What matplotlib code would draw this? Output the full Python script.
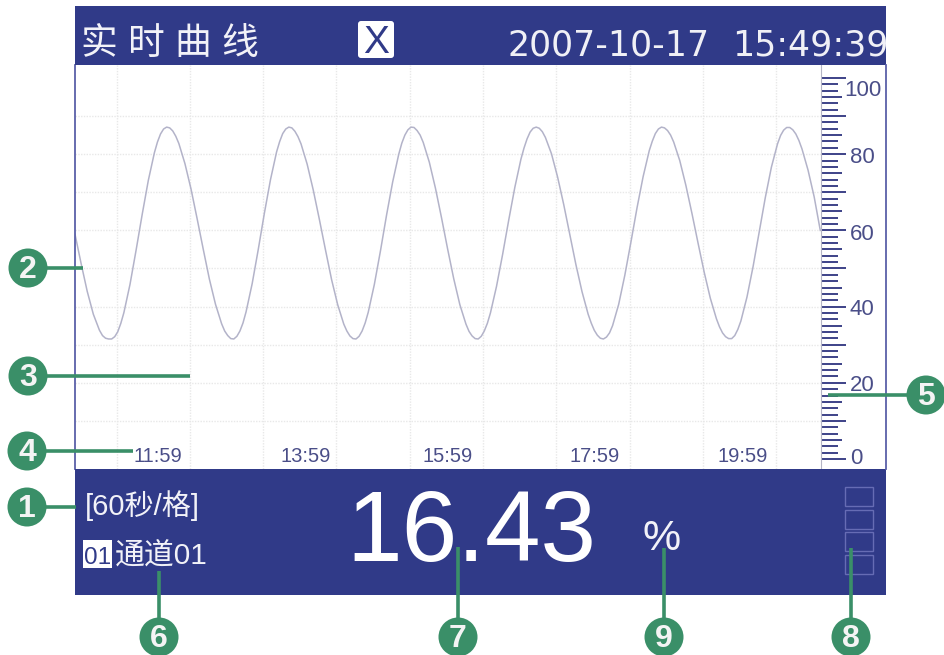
import numpy as np
import matplotlib
matplotlib.use("Agg")
import matplotlib.pyplot as plt
from matplotlib.patches import Circle, FancyBboxPatch, Rectangle

plt.rcParams['font.family'] = ['Liberation Sans', 'Noto Sans CJK SC', 'DejaVu Sans']

# curve, one value every 5 seconds
curve_times = list(range(0, 615, 5))
curve_values = [
    59.0, 51.3, 44.0, 38.0, 33.8, 31.7,
    31.5, 33.4, 38.4, 45.8, 54.8, 64.2, 73.1, 80.4, 85.3, 87.1,
    86.1, 82.8, 77.5, 70.8, 63.0, 55.0, 47.2, 40.6, 35.5, 32.4,
    31.5, 33.6, 38.6, 46.0, 55.0, 64.5, 73.3, 80.6, 85.4, 87.1,
    86.0, 82.7, 77.4, 70.6, 62.9, 54.9, 47.1, 40.5, 35.4, 32.3,
    31.5, 33.6, 38.5, 45.8, 54.6, 64.0, 72.7, 80.0, 85.0, 87.1,
    86.2, 83.1, 77.9, 71.1, 63.3, 55.1, 47.3, 40.5, 35.4, 32.3,
    31.5, 33.6, 38.3, 45.3, 53.7, 62.7, 71.3, 78.7, 84.0, 86.8,
    86.8, 84.4, 80.1, 74.0, 66.8, 58.9, 51.0, 43.9, 38.0, 33.8, 31.7,
    32.0, 35.0, 40.6, 48.2, 56.9, 65.9, 74.1, 80.9, 85.4, 87.1,
    86.2, 83.2, 78.3, 71.8, 64.4, 56.6, 49.0, 42.2, 36.8, 33.1, 31.6,
    32.4, 36.2, 42.5, 50.5, 59.6, 68.6, 76.6, 82.7, 86.3,
    87.0, 85.3, 81.4, 75.8, 68.8, 60.0,
]

# extra readings around the peaks and troughs, where the curve bends most
bend_times = [
    22.5, 27.5, 32.5, 37.5, 67.5, 72.5, 77.5, 82.5,
    122.5, 127.5, 132.5, 137.5, 167.5, 172.5, 177.5, 182.5,
    222.5, 227.5, 232.5, 237.5, 267.5, 272.5, 277.5, 282.5,
    322.5, 327.5, 332.5, 337.5, 367.5, 372.5, 377.5, 382.5,
    422.5, 427.5, 432.5, 437.5, 472.5, 477.5, 482.5, 487.5,
    527.5, 532.5, 537.5, 542.5, 577.5, 582.5, 587.5, 592.5,
]
bend_values = [
    32.4, 31.5, 32.1, 35.6, 83.2, 86.6, 86.9, 84.7,
    33.6, 31.6, 32.2, 35.7, 83.3, 86.6, 86.9, 84.6,
    33.6, 31.6, 32.2, 35.7, 82.9, 86.4, 87.0, 85.0,
    33.5, 31.6, 32.2, 35.6, 81.6, 85.8, 87.1, 85.9,
    35.7, 32.5, 31.5, 33.1, 83.4, 86.6, 86.9, 85.0,
    34.7, 32.1, 31.6, 34.0, 84.9, 87.0, 86.4, 83.6,
]

grid_times = [34, 94, 154, 214, 274, 334, 394, 454, 514, 574]
grid_values = [10, 20, 30, 40, 50, 60, 70, 80, 90]
time_labels = ['11:59', '13:59', '15:59', '17:59', '19:59']
time_label_pos = [67.5, 188.7, 305.3, 425.2, 546.8]
scale_labels = ['80', '60', '40', '20', '0']
scale_label_y = [157.7, 234.4, 309.4, 385.7, 458.7]

NAVY = '#303a88'
EDGE = '#5b60a8'
GREEN = '#3a8f68'
INK = '#4a4e88'

fig = plt.figure(figsize=(9.45, 6.55), dpi=100)
W, H = 945, 655

# plot area, 75..821 px across and 65..469 px down
ax = fig.add_axes([75 / W, (H - 469) / H, 746.5 / W, 404 / H])
ax.set_xlim(0, 611)
ax.set_ylim(-2.62, 103.4)
ax.set_xticks([])
ax.hlines(grid_values, 0, 611, colors='#e8e8e8', linewidth=1, linestyles=(0, (1, 1)))
ax.vlines(grid_times, -2.62, 103.4, colors='#e8e8e8', linewidth=1, linestyles=(0, (1, 1)))

all_times = np.array(curve_times + bend_times)
all_values = np.array(curve_values + bend_values)
order = np.argsort(all_times)
ax.plot(all_times[order], all_values[order], color='#b3b3c9', linewidth=1.1)

for name in ['top', 'bottom']:
    ax.spines[name].set_visible(False)
ax.spines['left'].set_color(EDGE)
ax.spines['left'].set_linewidth(1.3)
ax.spines['right'].set_color('#b5b5c5')
ax.spines['right'].set_linewidth(0.8)

# ruler: 60 ticks, long every 10, medium every 5
ruler = np.linspace(0, 100, 61)
ax.yaxis.tick_right()
ax.set_yticks(ruler)
ax.set_yticklabels([''] * 61)
ax.tick_params(axis='y', width=1.4, color='#3d4288', direction='out')
for i, tick in enumerate(ax.yaxis.get_major_ticks()):
    if i % 6 == 0:
        length = 25
    elif i % 3 == 0:
        length = 21.5
    else:
        length = 17
    tick.tick2line.set_markersize(length * 0.72)

for label, t in zip(time_labels, time_label_pos):
    ax.text(t, -0.66, label, ha='center', va='baseline', fontsize=14.5, color=INK)

# everything else is laid out in pixels on a full size overlay
ov = fig.add_axes([0, 0, 1, 1], facecolor='none')
ov.set_xlim(0, W)
ov.set_ylim(H, 0)
ov.axis('off')

ov.add_patch(Rectangle((75, 6), 811, 59, color=NAVY, lw=0))
ov.add_patch(Rectangle((75, 469), 811, 126, color=NAVY, lw=0))
ov.plot([885.5, 885.5], [65, 469], color=EDGE, lw=1.3)

ov.text(81, 54, '实 时 曲 线', fontsize=26.5, color='#f2f2f8', va='baseline')
ov.add_patch(FancyBboxPatch((360, 23), 32, 33, boxstyle='round,pad=2,rounding_size=3', fc='white', ec='none'))
ov.text(376, 53, 'X', fontsize=28, color=NAVY, ha='center', va='baseline')
ov.text(507, 56, '2007-10-17', fontsize=25, family='DejaVu Sans', color='#f0f0f6', va='baseline')
ov.text(889, 56, '15:49:39', fontsize=25, family='DejaVu Sans', color='#f0f0f6', va='baseline', ha='right')

ov.text(85, 515, '[60秒/格]', fontsize=21, color='#f2f2f8', va='baseline')
ov.add_patch(Rectangle((83, 540), 29, 28, color='white', lw=0))
ov.text(97.5, 564, '01', fontsize=17.5, color=NAVY, ha='center', va='baseline')
ov.text(115, 564, '通道01', fontsize=21.5, color='#f2f2f8', va='baseline')
ov.text(346, 561, '16.43', fontsize=72, color='white', va='baseline')
ov.text(662, 550, '%', fontsize=31, color='#f2f2f8', ha='center', va='baseline')

for top in [487, 510, 532, 555]:
    ov.add_patch(Rectangle((845, top), 28, 19, fc='none', ec='#666cb4', lw=1))

# ruler numbers
for label, y in zip(scale_labels, scale_label_y):
    ov.text(850, y, label, fontsize=16, color=INK, va='center')
ov.text(844, 90.5, '100', fontsize=16, color=INK, va='center')

# green call-outs
callouts = [
    ('1', 27, 507, 76, 507),
    ('2', 28, 268, 83, 268),
    ('3', 28, 376, 190, 376),
    ('4', 27, 451, 133, 451),
    ('5', 926, 395, 828, 395),
    ('6', 159, 637, 159, 571),
    ('7', 458, 637, 458, 547),
    ('8', 851, 637, 851, 548),
    ('9', 664, 637, 664, 548),
]
for num, cx, cy, ex, ey in callouts:
    ov.plot([cx, ex], [cy, ey], color=GREEN, lw=2.6, solid_capstyle='butt', zorder=5)
    ov.add_patch(Circle((cx, cy), 19.5, fc=GREEN, ec='none', zorder=6))
    ov.text(cx, cy + 2, num, fontsize=23, fontweight='bold', color='#f4f4f4',
            ha='center', va='center', zorder=7)

fig.savefig('out.png', dpi=100)
